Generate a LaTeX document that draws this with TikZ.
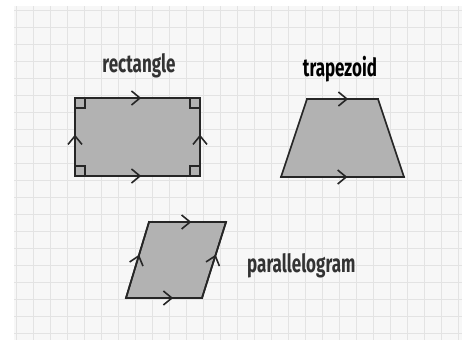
\documentclass[tikz,border=0pt]{standalone}
\usepackage{fontspec}
\setmainfont{Fira Sans}[FakeStretch=0.68]
\usetikzlibrary{decorations.markings,arrows.meta}
\begin{document}
\begin{tikzpicture}[x=1pt,y=-1pt,
  edgeline/.style={draw=black!85,line width=1.7pt,line join=miter,line cap=rect},
  chev/.style={postaction={decorate},decoration={markings,
     mark=at position #1 with {\arrow[black!85,line width=1.6pt]{Straight Barb[length=8.5pt,width=14pt]}}}},
  chev/.default=0.5,
  lbl/.style={font=\fontsize{25}{27}\bfseries\selectfont,text=black!80,inner sep=0pt},
  rightmark/.style={draw=black!85,line width=1.3pt},
  shapefill/.style={fill=black!30},
  gridline/.style={draw=black!11,line width=0.7pt}
]
\useasboundingbox (0,0) rectangle (468,343);
% background
\fill[white] (0,0) rectangle (468,343);
\fill[black!3] (14,6) rectangle (462,340);
\foreach \gx in {16,33,...,460} \draw[gridline] (\gx,6) -- (\gx,340);
\foreach \gy in {10,27,...,340} \draw[gridline] (14,\gy) -- (462,\gy);
% rectangle
\coordinate (ra) at (75,176);
\coordinate (rb) at (200,176);
\coordinate (rc) at (200,98);
\coordinate (rd) at (75,98);
\fill[shapefill] (ra) -- (rb) -- (rc) -- (rd) -- cycle;
\draw[edgeline,chev=0.53] (ra) -- (rb);
\draw[edgeline,chev=0.53] (rd) -- (rc);
\draw[edgeline,chev=0.53] (ra) -- (rd);
\draw[edgeline,chev=0.53] (rb) -- (rc);
\draw[rightmark] (ra) ++(0,-10) -| ++(10,10);
\draw[rightmark] (rb) ++(0,-10) -| ++(-10,10);
\draw[rightmark] (rc) ++(0,10) -| ++(-10,-10);
\draw[rightmark] (rd) ++(0,10) -| ++(10,-10);
\node[lbl] (rl) at (139,66) {rectangle};
% trapezoid
\coordinate (ta) at (281,177);
\coordinate (tb) at (404,177);
\coordinate (tc) at (378,99);
\coordinate (td) at (307,99);
\fill[shapefill] (ta) -- (tb) -- (tc) -- (td) -- cycle;
\draw[edgeline] (ta) -- (tb) -- (tc) -- (td) -- cycle;
\draw[edgeline,chev=0.54] (ta) -- (tb);
\draw[edgeline,chev=0.58] (td) -- (tc);
\node[lbl,text=black] (tl) at (340,69) {trapezoid};
% parallelogram
\coordinate (pa) at (126,298);
\coordinate (pb) at (202,298);
\coordinate (pc) at (226,222);
\coordinate (pd) at (149,222);
\fill[shapefill] (pa) -- (pb) -- (pc) -- (pd) -- cycle;
\draw[edgeline] (pa) -- (pb) -- (pc) -- (pd) -- cycle;
\draw[edgeline,chev=0.62] (pa) -- (pb);
\draw[edgeline,chev=0.55] (pd) -- (pc);
\draw[edgeline,chev=0.57] (pa) -- (pd);
\draw[edgeline,chev=0.57] (pb) -- (pc);
\node[lbl,anchor=west] (pl) at (247,266) {parallelogram};
\end{tikzpicture}
\end{document}
